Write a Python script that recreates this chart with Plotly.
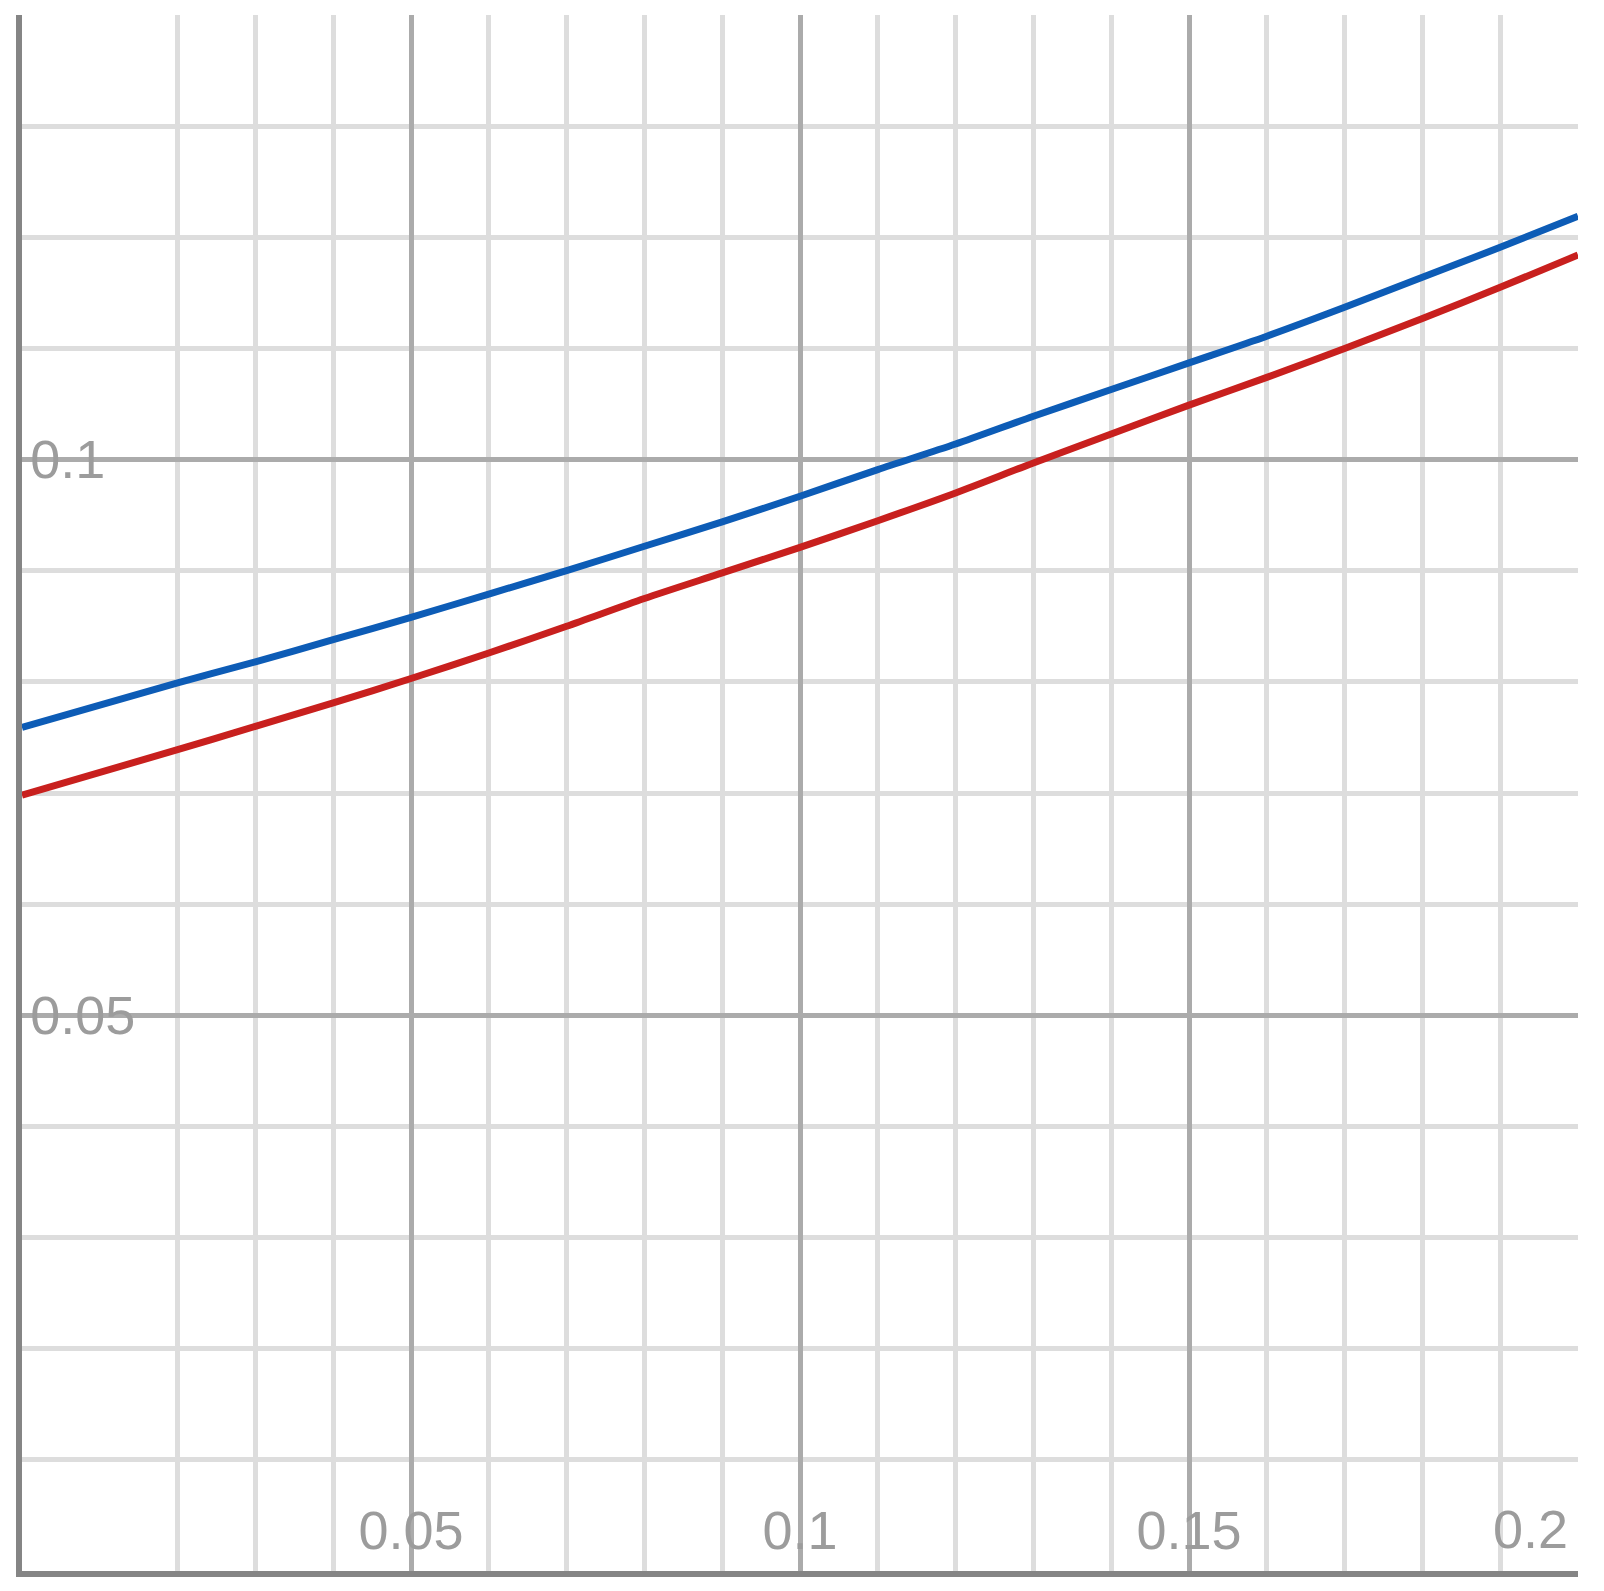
import plotly.graph_objects as go

# x-Werte (gemeinsam fuer beide Kurven)
x_werte = [0, 0.02, 0.03, 0.04, 0.05, 0.06, 0.07, 0.08, 0.09, 0.1,
           0.11, 0.12, 0.13, 0.14, 0.15, 0.16, 0.17, 0.18, 0.19, 0.2]

# obere Kurve (blau)
y_blau = [0.0759, 0.0799, 0.0818, 0.0838, 0.0858, 0.0879, 0.0900, 0.0922, 0.0944, 0.0967,
          0.0991, 0.1014, 0.1039, 0.1063, 0.1087, 0.1111, 0.1137, 0.1164, 0.1191, 0.1219]

# untere Kurve (rot)
y_rot = [0.0698, 0.0739, 0.0760, 0.0781, 0.0803, 0.0826, 0.0850, 0.0875, 0.0898, 0.0921,
         0.0945, 0.0970, 0.0997, 0.1023, 0.1049, 0.1074, 0.1100, 0.1127, 0.1155, 0.1184]

# Achsenbeschriftungen
x_ticks = [0.05, 0.1, 0.15]
x_ticktext = ["0.05", "0.1", "0.15"]
x_letzter_tick = 0.2
y_ticks = [0.05, 0.1]
y_ticktext = ["0.05", "0.1"]

grau_text = "#9c9c9c"
schrift = dict(family="Liberation Sans, Arial, sans-serif", size=54, color=grau_text)

fig = go.Figure()
fig.add_trace(go.Scatter(x=x_werte, y=y_blau, mode="lines",
                         line=dict(color="#0d5cb6", width=7, shape="spline", smoothing=0.8),
                         showlegend=False))
fig.add_trace(go.Scatter(x=x_werte, y=y_rot, mode="lines",
                         line=dict(color="#c8201e", width=7, shape="spline", smoothing=0.8),
                         showlegend=False))

fig.update_xaxes(
    range=[0, 0.2], showline=True, linecolor="#858585", linewidth=6,
    tickvals=x_ticks, ticktext=x_ticktext, ticks="", ticklabelposition="inside",
    tickfont=schrift, ticklabelstandoff=19,
    showgrid=True, gridcolor="#ababab", gridwidth=5,
    minor=dict(dtick=0.01, tick0=0, showgrid=True, gridcolor="#dddddd", gridwidth=5),
    zeroline=False,
)
fig.update_yaxes(
    range=[0, 0.14], showline=True, linecolor="#858585", linewidth=6,
    tickvals=y_ticks, ticktext=y_ticktext, ticks="", ticklabelposition="inside",
    tickfont=schrift, ticklabelstandoff=16,
    showgrid=True, gridcolor="#ababab", gridwidth=5,
    minor=dict(dtick=0.01, tick0=0, showgrid=True, gridcolor="#dddddd", gridwidth=5),
    zeroline=False,
)

# letzte x-Beschriftung rechtsbuendig, damit sie nicht abgeschnitten wird
fig.add_annotation(x=x_letzter_tick, y=0, xref="x", yref="y", text="0.2",
                   showarrow=False, xanchor="right", yanchor="bottom",
                   xshift=-8, yshift=10, font=schrift)

# Seitenrand des Browsers (8 px) ist in den Margins beruecksichtigt
fig.update_layout(
    width=1588, height=1575,
    margin=dict(l=14, r=18, t=7, b=12),
    paper_bgcolor="white", plot_bgcolor="white",
)

fig.write_html("out.html")
